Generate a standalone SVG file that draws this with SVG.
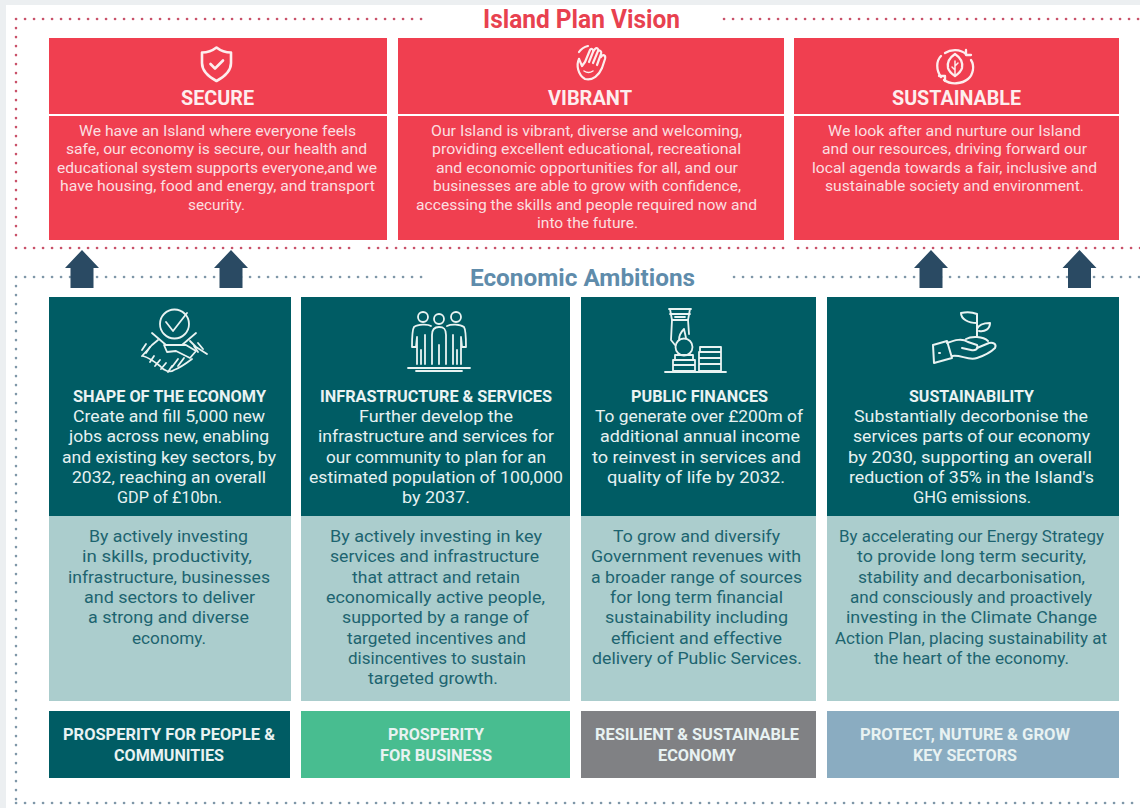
<svg xmlns="http://www.w3.org/2000/svg" width="1140" height="808" viewBox="0 0 1140 808">
<style>
text{font-family:Roboto,"Noto Sans","Liberation Sans",sans-serif;transform:translateY(.2px)}
.rb{font-size:14.5px;fill:#fbdfe0}
.rh{font-size:21px;font-weight:700;fill:#fdeeee}
.th{font-size:16px;font-weight:700;fill:#eaf3f3}
.tb{font-size:16.5px;fill:#e6f1f1}
.lb{font-size:16.5px;fill:#1d6470}
.bt{font-size:16px;font-weight:700;fill:#e8f2f2}
.ic{fill:none;stroke:#e9f3f2;stroke-width:1.8;stroke-linecap:round;stroke-linejoin:round}
.icr{fill:none;stroke:#fdeeee;stroke-width:2.6;stroke-linecap:round;stroke-linejoin:round}
.dr{fill:none;stroke:#c9526a;stroke-width:2.6;stroke-linecap:round;stroke-dasharray:0.1 8.9}
.dg{fill:none;stroke:#7f97a8;stroke-width:2.6;stroke-linecap:round;stroke-dasharray:0.1 8.9}
.red{fill:#f03f50}.teal{fill:#005c64}.pale{fill:#abcdcd}
</style>
<rect width="1140" height="808" fill="#ffffff"/>
<path d="M0 0H1140V5H6V808H0Z" fill="#eceff1"/>
<g id="frames">
<path class="dr" d="M16 19H422"/>
<path class="dr" d="M724 19H1140"/>
<path class="dr" d="M16 28V237"/>
<path class="dr" d="M16 248H356"/>
<path class="dr" d="M369 248H784"/>
<path class="dr" d="M798 248H1140"/>
<path class="dg" d="M16 277H422"/>
<path class="dg" d="M734 277H1140"/>
<path class="dg" d="M16 286V800"/>
<path class="dg" d="M16 803H1140"/>
</g>
<text id="title-vision" x="483" y="28" font-size="25" font-weight="700" fill="#e8414f" textLength="197" lengthAdjust="spacingAndGlyphs">Island Plan Vision</text>
<text id="title-ambitions" x="470" y="286" font-size="24" font-weight="700" fill="#5f8cab" textLength="225" lengthAdjust="spacingAndGlyphs">Economic Ambitions</text>

<g id="node-secure">
<rect class="red" x="49" y="38" width="338" height="76"/><rect class="red" x="49" y="116" width="338" height="124"/>
<path class="icr" d="M216.500 47.500C221 51 226 52.500 231 52.500V63C231 71 224 77 216.500 81C209 77 202 71 202 63V52.500C207 52.500 212 51 216.500 47.500Z"/>
<path class="icr" d="M210.500 64L215 68.500L223 60.500"/>
<text class="rh" x="181" y="105" textLength="73" lengthAdjust="spacingAndGlyphs">SECURE</text>
<text class="rb" x="79" y="136" textLength="277" lengthAdjust="spacingAndGlyphs">We have an Island where everyone feels</text>
<text class="rb" x="66" y="154" textLength="301" lengthAdjust="spacingAndGlyphs">safe, our economy is secure, our health and</text>
<text class="rb" x="57" y="173" textLength="320" lengthAdjust="spacingAndGlyphs">educational system supports everyone,and we</text>
<text class="rb" x="60" y="191" textLength="315" lengthAdjust="spacingAndGlyphs">have housing, food and energy, and transport</text>
<text class="rb" x="188" y="210" textLength="57" lengthAdjust="spacingAndGlyphs">security.</text>
</g>

<g id="node-vibrant">
<rect class="red" x="398" y="38" width="386" height="76"/><rect class="red" x="398" y="116" width="386" height="124"/>
<g class="icr" style="stroke-width:2.2">
<path d="M579 52C581 49 584 47 588 46"/>
<path d="M579 59C576 65 578 75 585 79C593 81 599 75 602 68L605 59C606 55 603 54 601 57"/>
<path d="M579 59L582 66L585 62M585 62L590 50M590 50C591 48 594 49 593 52L589 62M593 52L595 49C597 47 599 49 598 51L593 63M598 51C600 50 602 51 601 54L597 65"/>
<path d="M584 71C587 73 590 73 593 71" stroke-width="1.5"/>
</g>
<text class="rh" x="548" y="105" textLength="84" lengthAdjust="spacingAndGlyphs">VIBRANT</text>
<text class="rb" x="431" y="136" textLength="311" lengthAdjust="spacingAndGlyphs">Our Island is vibrant, diverse and welcoming,</text>
<text class="rb" x="432" y="154" textLength="309" lengthAdjust="spacingAndGlyphs">providing excellent educational, recreational</text>
<text class="rb" x="436" y="173" textLength="302" lengthAdjust="spacingAndGlyphs">and economic opportunities for all, and our</text>
<text class="rb" x="433" y="191" textLength="308" lengthAdjust="spacingAndGlyphs">businesses are able to grow with confidence,</text>
<text class="rb" x="416" y="210" textLength="341" lengthAdjust="spacingAndGlyphs">accessing the skills and people required now and</text>
<text class="rb" x="537" y="228" textLength="101" lengthAdjust="spacingAndGlyphs">into the future.</text>
</g>

<g id="node-sustainable">
<rect class="red" x="794" y="38" width="325" height="76"/><rect class="red" x="794" y="116" width="325" height="124"/>
<g class="icr" style="stroke-width:2.3">
<path d="M966 54C960 49 951 49 945 53"/>
<path d="M971 60C975 66 973 75 968 79C962 84 951 85 944 80"/>
<path d="M941 77C936 70 936 61 941 56"/>
<path d="M966 50V55H971"/>
<path d="M939 76L945 76L945 81"/>
<path d="M955 54C961 58 963 63 962 68C961 72 958 74 955 76C952 74 949 72 948 68C947 63 949 58 955 54Z"/>
<path d="M955 61V76M955 66L958 63M955 70L952 67" stroke-width="1.5"/>
</g>
<text class="rh" x="892" y="105" textLength="129" lengthAdjust="spacingAndGlyphs">SUSTAINABLE</text>
<text class="rb" x="828" y="136" textLength="253" lengthAdjust="spacingAndGlyphs">We look after and nurture our Island</text>
<text class="rb" x="822" y="154" textLength="265" lengthAdjust="spacingAndGlyphs">and our resources, driving forward our</text>
<text class="rb" x="812" y="173" textLength="285" lengthAdjust="spacingAndGlyphs">local agenda towards a fair, inclusive and</text>
<text class="rb" x="825" y="191" textLength="259" lengthAdjust="spacingAndGlyphs">sustainable society and environment.</text>
</g>

<g id="connectors" fill="#2a4a63">
<path id="arrow-1" d="M82 250L99 268H93.500V288H70.500V268H65Z"/>
<path id="arrow-2" d="M231 250L248 268H242.500V288H219.500V268H214Z"/>
<path id="arrow-3" d="M931 250L948 268H942.500V288H919.500V268H914Z"/>
<path id="arrow-4" d="M1079.500 250L1096.500 268H1091V288H1068V268H1062.500Z"/>
</g>

<g id="node-economy">
<rect class="teal" x="49" y="297" width="242" height="219"/><rect class="pale" x="49" y="516" width="242" height="185"/>
<g class="ic">
<circle cx="174.500" cy="324" r="14.500"/>
<path d="M166 322L173 331L187 313"/>
<path d="M152 333L166 345M196 333L182 345"/>
<path d="M142 356L152 345L158 340M207 354L196 347L190 341"/>
<path d="M146 344L142 350M150 347L146 353M198 343L203 349M194 346L198 352"/>
<path d="M166 345L186 345L196 351L190 358L176 351L167 352L164 345Z"/>
<path d="M143 356C150 358 155 362 160 366C164 371 170 373 174 370C180 368 188 362 192 359"/>
<path d="M154 356L150 362M160 360L155 366M166 363L161 369M172 366L168 372M178 359L172 367M184 358L178 366"/>
</g>
<text class="th" x="73" y="402" textLength="193" lengthAdjust="spacingAndGlyphs">SHAPE OF THE ECONOMY</text>
<text class="tb" x="73" y="422" textLength="192" lengthAdjust="spacingAndGlyphs">Create and fill 5,000 new</text>
<text class="tb" x="69" y="442" textLength="200" lengthAdjust="spacingAndGlyphs">jobs across new, enabling</text>
<text class="tb" x="62" y="463" textLength="214" lengthAdjust="spacingAndGlyphs">and existing key sectors, by</text>
<text class="tb" x="72" y="483" textLength="194" lengthAdjust="spacingAndGlyphs">2032, reaching an overall</text>
<text class="tb" x="117" y="503" textLength="105" lengthAdjust="spacingAndGlyphs">GDP of £10bn.</text>
<text class="lb" x="89" y="542" textLength="159" lengthAdjust="spacingAndGlyphs">By actively investing</text>
<text class="lb" x="82" y="562" textLength="170" lengthAdjust="spacingAndGlyphs">in skills, productivity,</text>
<text class="lb" x="68" y="583" textLength="202" lengthAdjust="spacingAndGlyphs">infrastructure, businesses</text>
<text class="lb" x="84" y="603" textLength="171" lengthAdjust="spacingAndGlyphs">and sectors to deliver</text>
<text class="lb" x="88" y="623" textLength="161" lengthAdjust="spacingAndGlyphs">a strong and diverse</text>
<text class="lb" x="132" y="644" textLength="74" lengthAdjust="spacingAndGlyphs">economy.</text>
</g>

<g id="node-infrastructure">
<rect class="teal" x="301" y="297" width="269" height="219"/><rect class="pale" x="301" y="516" width="269" height="185"/>
<g class="ic">
<circle cx="423" cy="317" r="5"/><circle cx="439" cy="319" r="5"/><circle cx="456" cy="317" r="5"/>
<path d="M431 326C428 324 418 324 414 327C412 330 412 340 412 347H416L417 337V364M421 364V350M425 364V335"/>
<path d="M432 364V335C432 329 435 327 439 327C444 327 446 329 446 335V364M439 364V345"/>
<path d="M447 326C451 324 460 324 464 327C466 330 466 340 466 347H462L461 337V364M457 364V350M453 364V335"/>
<path d="M408 368H470M416 371H462"/>
</g>
<text class="th" x="320" y="402" textLength="232" lengthAdjust="spacingAndGlyphs">INFRASTRUCTURE &amp; SERVICES</text>
<text class="tb" x="359" y="422" textLength="154" lengthAdjust="spacingAndGlyphs">Further develop the</text>
<text class="tb" x="318" y="442" textLength="236" lengthAdjust="spacingAndGlyphs">infrastructure and services for</text>
<text class="tb" x="326" y="463" textLength="220" lengthAdjust="spacingAndGlyphs">our community to plan for an</text>
<text class="tb" x="309" y="483" textLength="254" lengthAdjust="spacingAndGlyphs">estimated population of 100,000</text>
<text class="tb" x="402" y="503" textLength="68" lengthAdjust="spacingAndGlyphs">by 2037.</text>
<text class="lb" x="330" y="542" textLength="212" lengthAdjust="spacingAndGlyphs">By actively investing in key</text>
<text class="lb" x="330" y="562" textLength="209" lengthAdjust="spacingAndGlyphs">services and infrastructure</text>
<text class="lb" x="352" y="583" textLength="168" lengthAdjust="spacingAndGlyphs">that attract and retain</text>
<text class="lb" x="326" y="603" textLength="219" lengthAdjust="spacingAndGlyphs">economically active people,</text>
<text class="lb" x="342" y="623" textLength="187" lengthAdjust="spacingAndGlyphs">supported by a range of</text>
<text class="lb" x="347" y="644" textLength="179" lengthAdjust="spacingAndGlyphs">targeted incentives and</text>
<text class="lb" x="348" y="664" textLength="178" lengthAdjust="spacingAndGlyphs">disincentives to sustain</text>
<text class="lb" x="368" y="684" textLength="130" lengthAdjust="spacingAndGlyphs">targeted growth.</text>
</g>

<g id="node-finances">
<rect class="teal" x="581" y="297" width="235" height="219"/><rect class="pale" x="581" y="516" width="235" height="185"/>
<g class="ic">
<path d="M669 309H691M670 314H690M670 309L672 320H688L690 309M675 317H685"/>
<path d="M672 320L671 340L675 345M688 320L689 334"/>
<path d="M679 340C679 336 681 332 684 329L686 338"/>
<circle cx="684" cy="347" r="8.500"/>
<path d="M675 355H693V360H675ZM673 360H695V365H673ZM673 365H695V371H673Z"/>
<path d="M700 347H721V352H700ZM699 352H721V358H699ZM699 358H721V364H699ZM699 364H721V371H699Z"/>
<path d="M665 372H726"/>
</g>
<text class="th" x="631" y="402" textLength="137" lengthAdjust="spacingAndGlyphs">PUBLIC FINANCES</text>
<text class="tb" x="595" y="422" textLength="208" lengthAdjust="spacingAndGlyphs">To generate over £200m of</text>
<text class="tb" x="600" y="442" textLength="200" lengthAdjust="spacingAndGlyphs">additional annual income</text>
<text class="tb" x="592" y="463" textLength="209" lengthAdjust="spacingAndGlyphs">to reinvest in services and</text>
<text class="tb" x="607" y="483" textLength="178" lengthAdjust="spacingAndGlyphs">quality of life by 2032.</text>
<text class="lb" x="613" y="542" textLength="167" lengthAdjust="spacingAndGlyphs">To grow and diversify</text>
<text class="lb" x="591" y="562" textLength="210" lengthAdjust="spacingAndGlyphs">Government revenues with</text>
<text class="lb" x="591" y="583" textLength="211" lengthAdjust="spacingAndGlyphs">a broader range of sources</text>
<text class="lb" x="610" y="603" textLength="173" lengthAdjust="spacingAndGlyphs">for long term financial</text>
<text class="lb" x="605" y="623" textLength="183" lengthAdjust="spacingAndGlyphs">sustainability including</text>
<text class="lb" x="611" y="644" textLength="171" lengthAdjust="spacingAndGlyphs">efficient and effective</text>
<text class="lb" x="592" y="664" textLength="210" lengthAdjust="spacingAndGlyphs">delivery of Public Services.</text>
</g>

<g id="node-sustainability">
<rect class="teal" x="827" y="297" width="292" height="219"/><rect class="pale" x="827" y="516" width="292" height="185"/>
<g class="ic" style="stroke-width:2">
<path d="M933 345L947 341L952 358L934 363Z"/>
<path d="M947 343C955 340 962 338 968 342L977 345C979 349 975 351 971 350L962 348"/>
<path d="M952 356C960 354 968 361 977 358C983 356 990 353 995 348C997 344 993 342 989 343L977 348"/>
<path d="M939 353H940"/>
<path d="M977 337V314C972 312 966 312 961 313C961 319 968 323 977 323"/>
<path d="M977 329C979 324 985 323 990 323C990 329 985 332 979 331"/>
<path d="M966 339C971 336 983 336 988 341"/>
</g>
<text class="th" x="909" y="402" textLength="125" lengthAdjust="spacingAndGlyphs">SUSTAINABILITY</text>
<text class="tb" x="854" y="422" textLength="234" lengthAdjust="spacingAndGlyphs">Substantially decorbonise the</text>
<text class="tb" x="853" y="442" textLength="237" lengthAdjust="spacingAndGlyphs">services parts of our economy</text>
<text class="tb" x="848" y="463" textLength="244" lengthAdjust="spacingAndGlyphs">by 2030, supporting an overall</text>
<text class="tb" x="849" y="483" textLength="245" lengthAdjust="spacingAndGlyphs">reduction of 35% in the Island's</text>
<text class="tb" x="913" y="503" textLength="118" lengthAdjust="spacingAndGlyphs">GHG emissions.</text>
<text class="lb" x="839" y="542" textLength="265" lengthAdjust="spacingAndGlyphs">By accelerating our Energy Strategy</text>
<text class="lb" x="857" y="562" textLength="229" lengthAdjust="spacingAndGlyphs">to provide long term security,</text>
<text class="lb" x="858" y="583" textLength="227" lengthAdjust="spacingAndGlyphs">stability and decarbonisation,</text>
<text class="lb" x="850" y="603" textLength="242" lengthAdjust="spacingAndGlyphs">and consciously and proactively</text>
<text class="lb" x="846" y="623" textLength="251" lengthAdjust="spacingAndGlyphs">investing in the Climate Change</text>
<text class="lb" x="835" y="644" textLength="272" lengthAdjust="spacingAndGlyphs">Action Plan, placing sustainability at</text>
<text class="lb" x="874" y="664" textLength="195" lengthAdjust="spacingAndGlyphs">the heart of the economy.</text>
</g>

<g id="node-people">
<rect x="49" y="711" width="241" height="67" fill="#005c64"/>
<text class="bt" x="63" y="740" textLength="212" lengthAdjust="spacingAndGlyphs">PROSPERITY FOR PEOPLE &amp;</text>
<text class="bt" x="114" y="761" textLength="110" lengthAdjust="spacingAndGlyphs">COMMUNITIES</text>
</g>
<g id="node-business">
<rect x="301" y="711" width="269" height="67" fill="#48bd90"/>
<text class="bt" x="388" y="740" textLength="96" lengthAdjust="spacingAndGlyphs">PROSPERITY</text>
<text class="bt" x="380" y="761" textLength="112" lengthAdjust="spacingAndGlyphs">FOR BUSINESS</text>
</g>
<g id="node-resilient">
<rect x="581" y="711" width="235" height="67" fill="#808184"/>
<text class="bt" x="595" y="740" textLength="204" lengthAdjust="spacingAndGlyphs">RESILIENT &amp; SUSTAINABLE</text>
<text class="bt" x="658" y="761" textLength="78" lengthAdjust="spacingAndGlyphs">ECONOMY</text>
</g>
<g id="node-sectors">
<rect x="827" y="711" width="292" height="67" fill="#8aacc1"/>
<text class="bt" x="860" y="740" textLength="210" lengthAdjust="spacingAndGlyphs">PROTECT, NUTURE &amp; GROW</text>
<text class="bt" x="913" y="761" textLength="104" lengthAdjust="spacingAndGlyphs">KEY SECTORS</text>
</g>
</svg>
